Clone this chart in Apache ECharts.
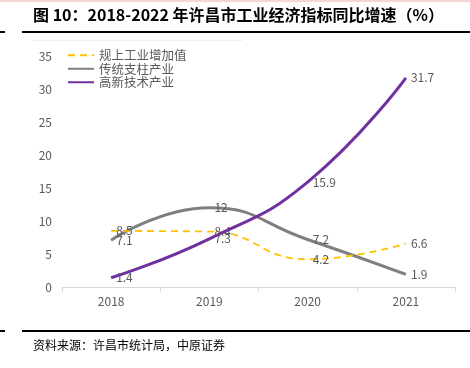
<!DOCTYPE html>
<html><head><meta charset="utf-8">
<script src="https://cdn.jsdelivr.net/npm/echarts@6/dist/echarts.min.js"></script>
<style>html,body{margin:0;padding:0;background:#fff;}#c{width:470px;height:368px;}</style>
</head><body><div id="c"></div>
<script>
const categories = ['2018', '2019', '2020', '2021'];
const seriesNames = ['规上工业增加值', '传统支柱产业', '高新技术产业'];
const valueAdded = [8.5, 8.4, 4.2, 6.6];
const traditional = [7.1, 12, 7.2, 1.9];
const highTech = [1.4, 7.3, 15.9, 31.7];
const yTicks = [0, 5, 10, 15, 20, 25, 30, 35];
const titleText = '图 10：2018-2022 年许昌市工业经济指标同比增速（%）';
const sourceText = '资料来源：许昌市统计局，中原证券';

const font = '"Noto Sans CJK SC", "Noto Sans", sans-serif';
const chart = echarts.init(document.getElementById('c'), null, {renderer: 'canvas'});
const lbl = {show: true, position: 'right', distance: 5, color: '#595959', fontSize: 12, fontFamily: font};
chart.setOption({
  animation: false,
  textStyle: {fontFamily: font},
  graphic: [
    {type: 'rect', shape: {x: 0, y: 0, width: 470, height: 2}, style: {fill: '#f4d6d6'}},
    {type: 'text', left: 33, top: 7, style: {text: titleText, font: 'bold 16px ' + font, fill: '#000'}},
    {type: 'rect', shape: {x: 0, y: 31, width: 5, height: 2}, style: {fill: '#000'}},
    {type: 'rect', shape: {x: 22, y: 31, width: 448, height: 2}, style: {fill: '#000'}},
    {type: 'rect', shape: {x: 32, y: 40, width: 210, height: 1}, style: {fill: '#eeeeee'}},
    {type: 'rect', shape: {x: 0, y: 330, width: 5, height: 2}, style: {fill: '#000'}},
    {type: 'rect', shape: {x: 22, y: 330, width: 448, height: 2}, style: {fill: '#000'}},
    {type: 'text', left: 33, top: 339, style: {text: sourceText, font: '12px ' + font, fill: '#000'}}
  ],
  legend: {
    orient: 'vertical', left: 67, top: 49, padding: 0, itemWidth: 26, itemHeight: 12, itemGap: 1,
    itemStyle: {opacity: 0},
    textStyle: {color: '#595959', fontSize: 12.5, fontFamily: font},
    data: seriesNames
  },
  grid: {left: 62, right: 15, top: 56, bottom: 81},
  xAxis: {
    type: 'category', data: categories, boundaryGap: true,
    axisLine: {lineStyle: {color: '#d9d9d9'}},
    axisTick: {show: true, lineStyle: {color: '#d9d9d9'}},
    axisLabel: {color: '#595959', fontSize: 12, margin: 8}
  },
  yAxis: {
    type: 'value', min: yTicks[0], max: yTicks[yTicks.length - 1], interval: 5,
    axisLine: {show: false}, axisTick: {show: false}, splitLine: {show: false},
    axisLabel: {color: '#595959', fontSize: 12, margin: 10}
  },
  series: [
    {name: seriesNames[0], type: 'line', data: valueAdded, smooth: true, symbol: 'circle', symbolSize: 0,
     lineStyle: {color: '#FFC000', width: 1.8, type: [7, 5]}, itemStyle: {color: '#FFC000'}, label: lbl, z: 3},
    {name: seriesNames[1], type: 'line', data: traditional, smooth: true, symbol: 'circle', symbolSize: 0,
     lineStyle: {color: '#7f7f7f', width: 3}, itemStyle: {color: '#7f7f7f'}, label: lbl, z: 2},
    {name: seriesNames[2], type: 'line', data: highTech, smooth: true, symbol: 'circle', symbolSize: 0,
     lineStyle: {color: '#7030A0', width: 3}, itemStyle: {color: '#7030A0'}, label: lbl, z: 4}
  ]
});
</script></body></html>
